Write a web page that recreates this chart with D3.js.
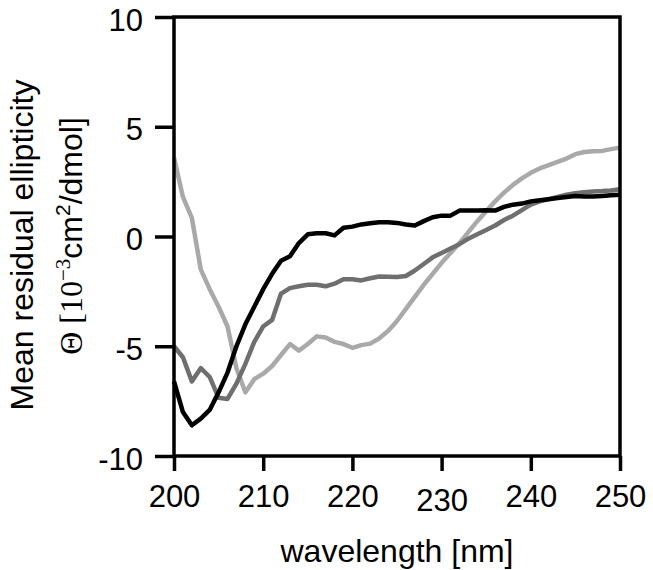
<!DOCTYPE html>
<html>
<head>
<meta charset="utf-8">
<script src="https://cdn.jsdelivr.net/npm/d3@7"></script>
<style>
  html, body { margin: 0; padding: 0; background: #fff; }
  svg { display: block; }
  text { font-family: "Liberation Sans", Arial, Helvetica, sans-serif; fill: #000; }
</style>
</head>
<body>
<svg id="chart" width="653" height="570"></svg>
<script>
// wavelength grid (nm)
const wavelengths = d3.range(200, 251, 1);

// Mean residual ellipticity [10^-3 cm^2/dmol]
const seriesBlack = [
  -6.6, -8.0, -8.6, -8.3, -7.9, -7.1, -6.2, -5.0, -4.0, -3.2,
  -2.4, -1.7, -1.1, -0.9, -0.3, 0.1, 0.15, 0.15, 0.05, 0.4,
  0.45, 0.55, 0.6, 0.65, 0.65, 0.62, 0.55, 0.5, 0.7, 0.88,
  0.95, 0.95, 1.18, 1.18, 1.18, 1.2, 1.18, 1.35, 1.45, 1.5,
  1.6, 1.65, 1.7, 1.75, 1.8, 1.85, 1.82, 1.82, 1.85, 1.88, 1.9
];
const seriesDarkGray = [
  -5.0, -5.5, -6.6, -6.0, -6.4, -7.35, -7.4, -6.7, -5.8, -4.8,
  -4.1, -3.8, -2.6, -2.35, -2.27, -2.2, -2.2, -2.27, -2.15, -1.95,
  -1.95, -2.0, -1.9, -1.82, -1.83, -1.85, -1.8, -1.55, -1.25, -0.95,
  -0.75, -0.55, -0.35, -0.1, 0.1, 0.3, 0.5, 0.75, 0.95, 1.2,
  1.45, 1.6, 1.7, 1.8, 1.9, 1.97, 2.02, 2.05, 2.07, 2.1, 2.15
];
const seriesLightGray = [
  3.6, 1.8, 0.85, -1.5, -2.4, -3.2, -4.1, -6.0, -7.1, -6.5,
  -6.25, -5.9, -5.4, -4.9, -5.2, -4.9, -4.55, -4.6, -4.8, -4.9,
  -5.07, -4.95, -4.88, -4.65, -4.3, -3.85, -3.3, -2.75, -2.2, -1.7,
  -1.2, -0.75, -0.3, 0.2, 0.7, 1.15, 1.6, 2.0, 2.35, 2.65,
  2.9, 3.1, 3.25, 3.4, 3.55, 3.75, 3.85, 3.88, 3.9, 3.98, 4.05
];

const xTicks = [200, 210, 220, 230, 240, 250];
const yTicks = [-10, -5, 0, 5, 10];

const seriesList = [
  { name: "light", values: seriesLightGray, color: "#a9a9a9" },
  { name: "dark", values: seriesDarkGray, color: "#6f6f6f" },
  { name: "black", values: seriesBlack, color: "#000000" }
];

const svg = d3.select("#chart");
const plotLeft = 174, plotRight = 620, plotTop = 17, plotBottom = 456;

const x = d3.scaleLinear().domain([200, 250]).range([plotLeft, plotRight]);
const y = d3.scaleLinear().domain([-10, 10]).range([plotBottom, plotTop]);

// curves
const line = d3.line()
  .x((d, i) => x(wavelengths[i]))
  .y(d => y(d));

svg.append("g").attr("class", "curves")
  .selectAll("path")
  .data(seriesList)
  .join("path")
  .attr("d", d => line(d.values))
  .attr("fill", "none")
  .attr("stroke", d => d.color)
  .attr("stroke-width", 4.5)
  .attr("stroke-linejoin", "round");

// axes
const fontSize = 31;
const xAxis = d3.axisBottom(x).tickValues(xTicks).tickSize(15).tickPadding(14).tickFormat(d3.format("d"));
const yAxis = d3.axisLeft(y).tickValues(yTicks).tickSize(19).tickPadding(12).tickFormat(d3.format("d"));

const gx = svg.append("g").attr("transform", `translate(0,${plotBottom})`).call(xAxis);
const gy = svg.append("g").attr("transform", `translate(${plotLeft},0)`).call(yAxis);

[gx, gy].forEach(g => {
  g.select(".domain").remove();
  g.selectAll(".tick line").attr("stroke", "#000").attr("stroke-width", 3.5);
  g.selectAll(".tick text")
    .attr("font-family", "'Liberation Sans', Arial, Helvetica, sans-serif")
    .attr("font-size", fontSize)
    .attr("fill", "#000");
});
gx.selectAll(".tick text").attr("dy", d => d === 230 ? "0.85em" : "0.72em");
gy.selectAll(".tick text").attr("dy", "0.42em").text(d => d < 0 ? "-" + Math.abs(d) : d);

// frame
svg.append("rect")
  .attr("x", plotLeft).attr("y", plotTop)
  .attr("width", plotRight - plotLeft).attr("height", plotBottom - plotTop)
  .attr("fill", "none")
  .attr("stroke", "#000")
  .attr("stroke-width", 3.5);

// x label
svg.append("text")
  .attr("x", (plotLeft + plotRight) / 2)
  .attr("y", 562)
  .attr("text-anchor", "middle")
  .attr("font-size", 32)
  .text("wavelength [nm]");

// y label line 1
svg.append("text")
  .attr("transform", "translate(33,245) rotate(-90)")
  .attr("text-anchor", "middle")
  .attr("font-size", 32)
  .text("Mean residual ellipticity");

// y label line 2
const l2 = svg.append("text")
  .attr("transform", "translate(82,236) rotate(-90)")
  .attr("text-anchor", "middle")
  .attr("font-size", 32);
l2.append("tspan").attr("font-family", "'Liberation Serif', 'Times New Roman', serif").text("Θ [10");
l2.append("tspan").attr("font-family", "'Liberation Serif', 'Times New Roman', serif")
  .attr("font-size", 21).attr("dy", -12).text("−3");
l2.append("tspan").attr("dy", 12).text("cm");
l2.append("tspan").attr("font-size", 21).attr("dy", -12).text("2");
l2.append("tspan").attr("dy", 12).text("/dmol]");
</script>
</body>
</html>
